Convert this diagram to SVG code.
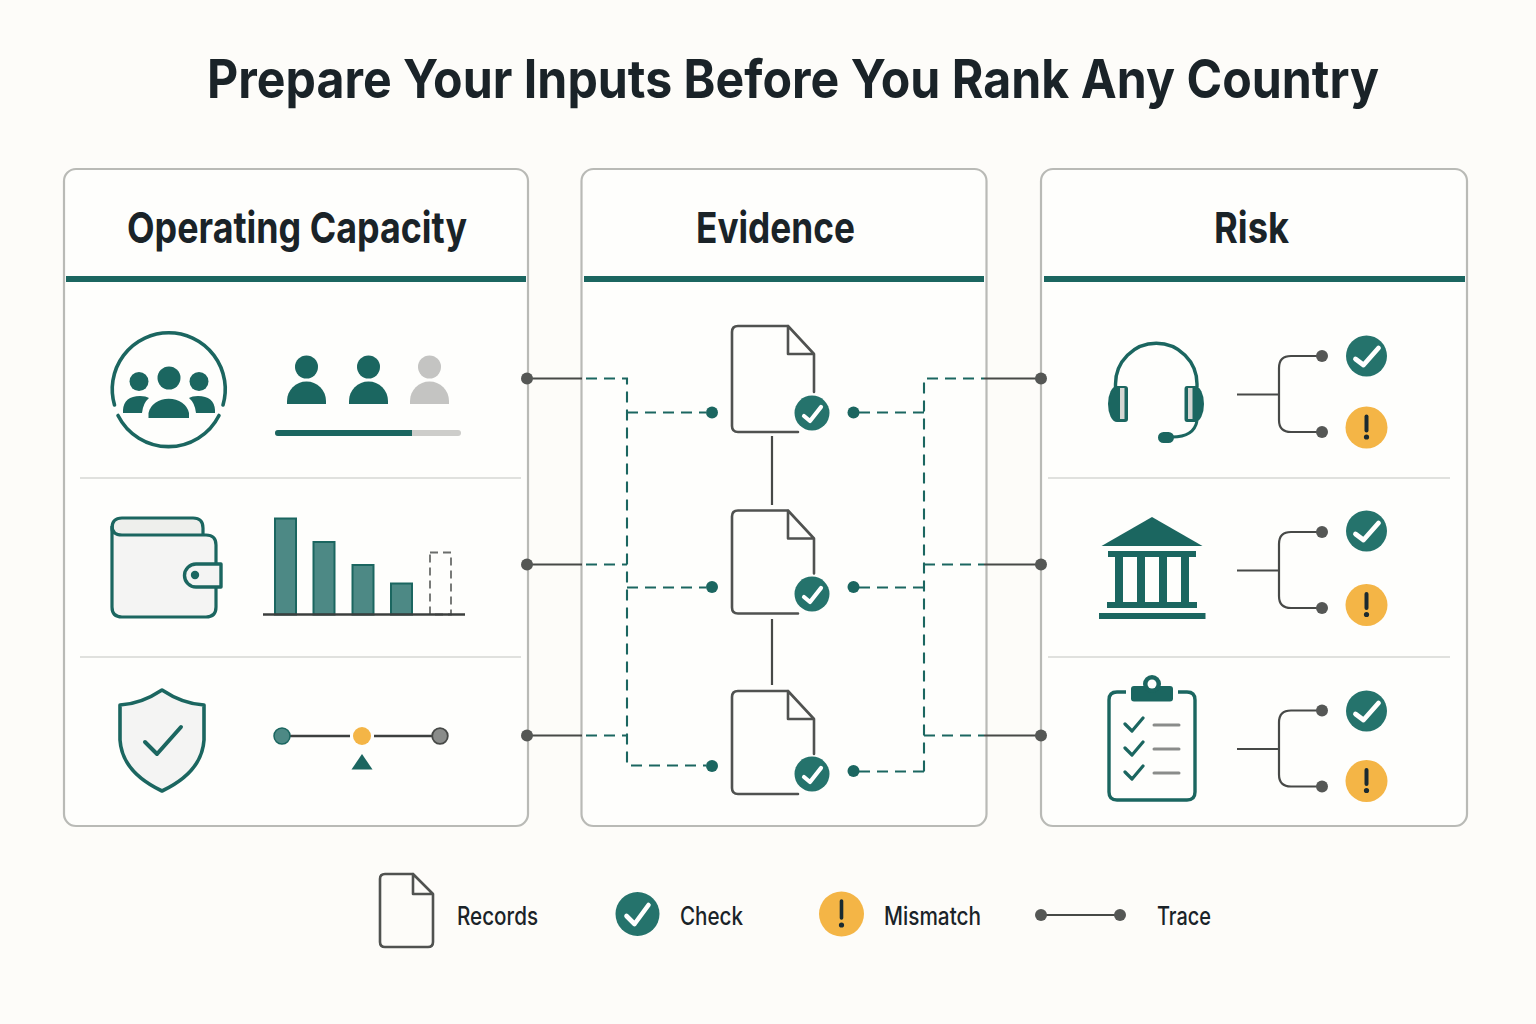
<svg xmlns="http://www.w3.org/2000/svg" width="1536" height="1024" viewBox="0 0 1536 1024">
<style>
.t{font-family:"Inter","Liberation Sans",sans-serif;fill:#1a2328}
.title{font-size:53px;font-weight:700}
.head{font-size:43px;font-weight:700}
.leg{font-size:25px;font-weight:500}
.panel{fill:#fefefc;stroke:#b9bab6;stroke-width:2.2}
.rule{fill:#1b6660}
.div{stroke:#d6d7d3;stroke-width:1.6}
.tf{fill:#1b6660}
.ts{fill:none;stroke:#1b6660;stroke-width:4;stroke-linecap:round;stroke-linejoin:round}
.doc{fill:none;stroke:#505250;stroke-width:2.6;stroke-linejoin:round;stroke-linecap:round}
.solid{fill:none;stroke:#474947;stroke-width:2.2}
.dash{fill:none;stroke:#1b6660;stroke-width:2.1;stroke-dasharray:11 7}
.gd{fill:#555755}
.tealdot{fill:#1b6660}
.bar{fill:#4d8985;stroke:#1b6660;stroke-width:2}
</style>
<defs>
<g id="chk"><circle r="20.500" fill="#25736c"/><path d="M-11 3L-3 9L12-8" fill="none" stroke="#fff" stroke-width="4.800" stroke-linecap="round" stroke-linejoin="round"/></g>
<g id="warn"><circle r="21" fill="#f4b546"/><path d="M0-11V3" stroke="#1a2a30" stroke-width="4" stroke-linecap="round"/><circle cy="9.500" r="2.600" fill="#1a2a30"/></g>
<g id="smallchk"><circle r="17.500" fill="#25736c"/><path d="M-8 3L-2 8L9-6" fill="none" stroke="#fff" stroke-width="4.200" stroke-linecap="round" stroke-linejoin="round"/></g>
<g id="person"><circle cy="-20" r="11.500"/><path d="M-19.500 18V15A19.500 19.500 0 0 1 19.500 15V18Z" transform="translate(0 -1)"/></g>
<g id="doc"><path class="doc" d="M788 0H738Q732 0 732 6V100Q732 106 738 106H798M788 0L814 28V66M788 0V28H814"/></g>
<g id="doc-short"><path class="doc" d="M788 0H738Q732 0 732 6V97Q732 103 738 103H798M788 0L814 28V63M788 0V28H814"/></g>
<g id="branch"><path class="solid" d="M1237 38.500H1279M1322 0H1291Q1279 0 1279 12V64Q1279 76 1291 76H1322"/><circle class="gd" cx="1322" cy="0" r="6"/><circle class="gd" cx="1322" cy="76" r="6"/></g>
</defs>
<rect width="1536" height="1024" fill="#fdfcf9"/>
<text class="t title" id="title" x="207" y="98" textLength="1172" lengthAdjust="spacingAndGlyphs">Prepare Your Inputs Before You Rank Any Country</text>

<g id="panel-capacity">
<rect class="panel" x="64" y="169" width="464" height="657" rx="12"/>
<rect class="rule" x="66" y="276" width="460" height="6"/>
<text class="t head" x="127" y="243" textLength="340" lengthAdjust="spacingAndGlyphs">Operating Capacity</text>
<path class="div" d="M80 478H521M80 657H521"/>
</g>
<g id="panel-evidence">
<rect class="panel" x="581.500" y="169" width="405" height="657" rx="12"/>
<rect class="rule" x="584" y="276" width="400" height="6"/>
<text class="t head" x="696" y="243" textLength="159" lengthAdjust="spacingAndGlyphs">Evidence</text>
</g>
<g id="panel-risk">
<rect class="panel" x="1041" y="169" width="426" height="657" rx="12"/>
<rect class="rule" x="1044" y="276" width="421" height="6"/>
<text class="t head" x="1214" y="243" textLength="75" lengthAdjust="spacingAndGlyphs">Risk</text>
<path class="div" d="M1048 478H1450M1048 657H1450"/>
</g>

<g id="connectors">
<path class="solid" d="M527 378.500H582M527 564.500H582M527 735.500H582"/>
<path class="dash" d="M586 378.500H627V765.500H706M627 412.500H706M586 564.500H627M627 587.500H706M586 735.500H627"/>
<path class="dash" d="M859 412.500H924M859 587.500H924M859 771.500H924M924 771.500V378.500H984M924 564.500H984M924 735.500H984"/>
<path class="solid" d="M984 378.500H1041M984 564.500H1041M984 735.500H1041"/>
<path class="solid" d="M772 436V505M772 619V685"/>
<g class="gd"><circle cx="527" cy="378.500" r="6"/><circle cx="527" cy="564.500" r="6"/><circle cx="527" cy="735.500" r="6"/><circle cx="1041" cy="378.500" r="6"/><circle cx="1041" cy="564.500" r="6"/><circle cx="1041" cy="735.500" r="6"/></g>
<g class="tealdot"><circle cx="712" cy="412.500" r="6"/><circle cx="712" cy="587" r="6"/><circle cx="712" cy="766" r="6"/><circle cx="853.500" cy="412.500" r="6"/><circle cx="853.500" cy="587" r="6"/><circle cx="853.500" cy="771" r="6"/></g>
</g>

<g id="icon-team">
<path class="ts" style="stroke-width:3.600" d="M114.500 405A56.500 56.500 0 1 1 223 405M118 415.500A56.500 56.500 0 0 0 219 415.500"/>
<g class="tf"><circle cx="169" cy="378" r="11.500"/><circle cx="139" cy="381.500" r="9.500"/><circle cx="199" cy="381.500" r="9.500"/>
<path d="M148.500 418V413A20.500 17 0 0 1 189 413V418Z"/>
<path d="M123 413V410Q124 396 140 396Q146 396 149 398Q143 403 142 413Z"/>
<path d="M215 413V410Q214 396 198 396Q192 396 189 398Q195 403 196 413Z"/></g>
</g>
<g id="icon-staffing">
<use href="#person" x="306.500" y="387" class="tf"/>
<use href="#person" x="368.500" y="387" class="tf"/>
<use href="#person" x="429.500" y="387" fill="#c4c4c2"/>
<rect x="275" y="430" width="186" height="6" rx="3" fill="#cdcdca"/>
<path d="M278 430H412V436H278A3 3 0 0 1 278 430Z" fill="#1b6660"/>
</g>
<g id="icon-wallet">
<path d="M112 528Q112 518 122 518H193Q203 518 203 528V536H122Q112 536 112 528Z" fill="#eeefec" stroke="#1b6660" stroke-width="3.200"/>
<path d="M112 528V607Q112 617 122 617H206Q216 617 216 607V545Q216 535 206 535H122Q112 535 112 526Z" fill="#f4f4f3" stroke="#1b6660" stroke-width="3.200"/>
<path d="M221 564H196A11.500 11.500 0 0 0 196 587H221Z" fill="#f4f4f3" stroke="#1b6660" stroke-width="3.400" stroke-linejoin="round"/>
<circle cx="195" cy="575" r="4.200" fill="#1b6660"/>
</g>
<g id="icon-bars">
<rect class="bar" x="275" y="518.500" width="21" height="96"/>
<rect class="bar" x="313.500" y="542" width="21" height="72.500"/>
<rect class="bar" x="352.500" y="565" width="21" height="49.500"/>
<rect class="bar" x="391" y="583.500" width="21" height="31"/>
<rect x="430" y="552.500" width="21" height="62" fill="none" stroke="#6b6d6b" stroke-width="1.800" stroke-dasharray="8 5"/>
<path d="M263 614.500H465" stroke="#3c3f3e" stroke-width="2.400"/>
</g>
<g id="icon-shield">
<path d="M162 690Q141 704 120 705V740Q122 772 162 791Q202 772 204 740V705Q183 704 162 690Z" fill="#f4f4f3" stroke="#1b6660" stroke-width="3.600" stroke-linejoin="round"/>
<path class="ts" d="M145 742L157 754L181 727"/>
</g>
<g id="icon-slider">
<path d="M290 736H350M374 736H432" stroke="#3c3f3e" stroke-width="2.400"/>
<circle cx="282" cy="736" r="8" fill="#4d8985" stroke="#1b6660" stroke-width="1.500"/>
<circle cx="362" cy="736" r="9" fill="#f4b546"/>
<circle cx="440" cy="736" r="7.800" fill="#8a8c8a" stroke="#474947" stroke-width="1.800"/>
<path d="M362 754L372.500 769.500H351.500Z" fill="#1b6660"/>
</g>

<g id="doc-1"><use href="#doc" y="326"/><use href="#smallchk" x="812" y="413"/></g>
<g id="doc-2"><use href="#doc-short" y="510.500"/><use href="#smallchk" x="812" y="594"/></g>
<g id="doc-3"><use href="#doc-short" y="691"/><use href="#smallchk" x="812" y="774"/></g>

<g id="icon-headset">
<path d="M1115.500 387V384A40.750 40.750 0 0 1 1197 384V387" fill="none" stroke="#1b6660" stroke-width="3.400"/>
<path d="M1117 386A9 18 0 0 0 1117 422H1125Q1128 422 1128 419V389Q1128 386 1125 386Z" fill="#1b6660"/>
<path d="M1195 386A9 18 0 0 1 1195 422H1187Q1184.500 422 1184.500 419V389Q1184.500 386 1187 386Z" fill="#1b6660"/>
<rect x="1120" y="388" width="4.500" height="31" fill="#d5d6d3"/>
<rect x="1188" y="388" width="4.500" height="31" fill="#d5d6d3"/>
<path d="M1197 421Q1194 437 1172 437" fill="none" stroke="#1b6660" stroke-width="3"/>
<rect x="1158" y="432" width="16" height="11" rx="5.500" fill="#1b6660"/>
</g>
<g id="icon-bank" class="tf">
<path d="M1152 517L1202.500 546H1101.500Z"/>
<rect x="1108" y="551" width="88" height="6"/>
<rect x="1115" y="557" width="8" height="45"/><rect x="1137" y="557" width="8" height="45"/><rect x="1159" y="557" width="8" height="45"/><rect x="1181" y="557" width="8" height="45"/>
<rect x="1107" y="602" width="90" height="6"/>
<rect x="1099" y="613" width="106.500" height="6"/>
</g>
<g id="icon-clipboard">
<path class="ts" d="M1126 692H1117Q1109 692 1109 700V792Q1109 800 1117 800H1187Q1195 800 1195 792V700Q1195 692 1187 692H1178" style="stroke-width:3.400;stroke-linecap:butt"/>
<rect class="tf" x="1131" y="686" width="42" height="15.500" rx="3"/>
<circle class="tf" cx="1152" cy="684" r="9"/>
<circle cx="1152" cy="684" r="4.500" fill="#fefefc"/>
<path class="ts" style="stroke-width:3.200" d="M1125 724L1132 731L1143 718M1125 748L1132 755L1143 742M1125 772L1132 779L1143 766"/>
<path d="M1154 725H1179M1154 749H1179M1154 773H1179" stroke="#8a8c8a" stroke-width="3" stroke-linecap="round"/>
</g>

<g id="risk-1"><use href="#branch" y="356"/><use href="#chk" x="1366.500" y="356"/><use href="#warn" x="1366.500" y="427.500"/></g>
<g id="risk-2"><use href="#branch" y="532"/><use href="#chk" x="1366.500" y="531"/><use href="#warn" x="1366.500" y="605"/></g>
<g id="risk-3"><use href="#branch" y="710.500"/><use href="#chk" x="1366.500" y="711"/><use href="#warn" x="1366.500" y="781"/></g>

<g id="legend">
<path class="doc" d="M413 874H385Q380 874 380 879V942Q380 947 385 947H428Q433 947 433 942V894M413 874L433 894M413 874V894H433"/>
<text class="t leg" x="457" y="925" textLength="81" lengthAdjust="spacingAndGlyphs">Records</text>
<g transform="translate(637.500 914)"><circle r="22" fill="#25736c"/><path d="M-11 2L-3 10L11-9" fill="none" stroke="#fff" stroke-width="4.600" stroke-linecap="round" stroke-linejoin="round"/></g>
<text class="t leg" x="680" y="925" textLength="63" lengthAdjust="spacingAndGlyphs">Check</text>
<g transform="translate(841.500 914)"><circle r="22.500" fill="#f4b546"/><path d="M0-13V4" stroke="#1a2a30" stroke-width="3.600" stroke-linecap="round"/><circle cy="11" r="2.600" fill="#1a2a30"/></g>
<text class="t leg" x="884" y="925" textLength="97" lengthAdjust="spacingAndGlyphs">Mismatch</text>
<path class="solid" d="M1041 915H1120"/><circle class="gd" cx="1041" cy="915" r="6"/><circle class="gd" cx="1120" cy="915" r="6"/>
<text class="t leg" x="1157" y="925" textLength="54" lengthAdjust="spacingAndGlyphs">Trace</text>
</g>
</svg>
